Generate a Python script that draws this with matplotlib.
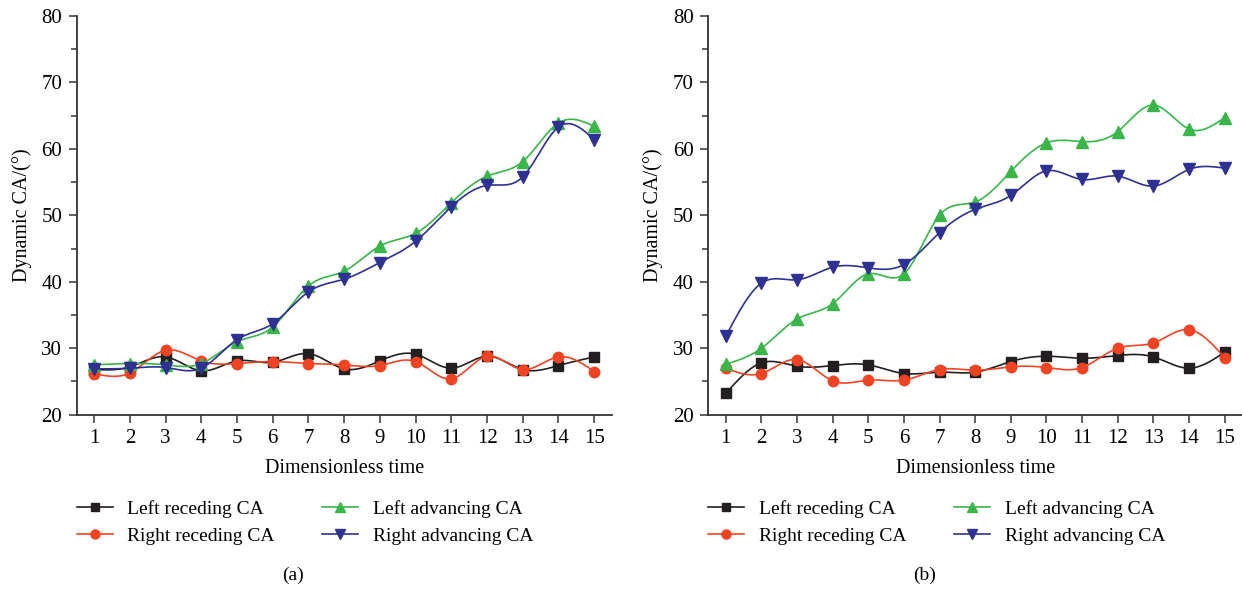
import numpy as np
import matplotlib
matplotlib.use("Agg")
import matplotlib.pyplot as plt
from matplotlib.ticker import MultipleLocator

plt.rcParams["font.family"] = ["Liberation Serif", "DejaVu Serif"]
plt.rcParams["font.size"] = 13.5

t = [1, 2, 3, 4, 5, 6, 7, 8, 9, 10, 11, 12, 13, 14, 15]

# panel (a)
a_left_rec = [26.8, 27.2, 28.7, 26.6, 28.1, 27.9, 29.2, 26.9, 28.1, 29.1, 27.0, 28.8, 26.8, 27.4, 28.7]
a_right_rec = [26.2, 26.3, 29.7, 28.1, 27.7, 28.0, 27.7, 27.5, 27.4, 28.0, 25.4, 28.8, 26.8, 28.7, 26.5]
a_left_adv = [27.5, 27.7, 27.5, 27.7, 31.0, 33.2, 39.4, 41.6, 45.4, 47.3, 51.9, 55.9, 58.1, 63.9, 63.4]
a_right_adv = [26.9, 27.0, 27.1, 27.0, 31.3, 33.7, 38.5, 40.4, 42.9, 46.1, 51.3, 54.5, 55.8, 63.3, 61.4]

# panel (b)
b_left_rec = [23.2, 27.8, 27.3, 27.4, 27.5, 26.2, 26.4, 26.4, 28.0, 28.8, 28.5, 28.9, 28.7, 27.0, 29.4]
b_right_rec = [27.0, 26.2, 28.3, 25.1, 25.2, 25.2, 26.8, 26.7, 27.2, 27.1, 27.1, 30.0, 30.8, 32.8, 28.6]
b_left_adv = [27.6, 30.0, 34.4, 36.7, 41.2, 41.2, 50.0, 52.0, 56.6, 60.9, 61.1, 62.6, 66.6, 63.0, 64.7]
b_right_adv = [31.8, 39.8, 40.3, 42.2, 42.1, 42.6, 47.4, 50.9, 53.0, 56.7, 55.4, 55.9, 54.4, 56.9, 57.1]

labels = ["Left receding CA", "Right receding CA", "Left advancing CA", "Right advancing CA"]
colors = ["#231f20", "#ee4423", "#39b54a", "#2e3192"]
markers = ["s", "o", "^", "v"]
msizes = [6.5, 7.5, 8, 8]


def smooth(x, y, n=30):
    # natural cubic spline, used only for the connecting line
    x = np.asarray(x, float)
    y = np.asarray(y, float)
    k = len(x)
    h = np.diff(x)
    A = np.zeros((k, k))
    b = np.zeros(k)
    A[0, 0] = A[-1, -1] = 1
    for i in range(1, k - 1):
        A[i, i - 1] = h[i - 1]
        A[i, i] = 2 * (h[i - 1] + h[i])
        A[i, i + 1] = h[i]
        b[i] = 6 * ((y[i + 1] - y[i]) / h[i] - (y[i] - y[i - 1]) / h[i - 1])
    M = np.linalg.solve(A, b)
    xs, ys = [], []
    for i in range(k - 1):
        s = np.linspace(x[i], x[i + 1], n, endpoint=False)
        a = x[i + 1] - s
        c = s - x[i]
        v = (M[i] * a**3 + M[i + 1] * c**3) / (6 * h[i]) \
            + (y[i] / h[i] - M[i] * h[i] / 6) * a \
            + (y[i + 1] / h[i] - M[i + 1] * h[i] / 6) * c
        xs.extend(s)
        ys.extend(v)
    xs.append(x[-1])
    ys.append(y[-1])
    return xs, ys


fig = plt.figure(figsize=(12.42, 5.9), dpi=100)
ax_a = fig.add_axes([76.7 / 1242, 175.3 / 590, 535 / 1242, 398.7 / 590])
ax_b = fig.add_axes([708.3 / 1242, 175.3 / 590, 533.7 / 1242, 398.7 / 590])

panels = [
    (ax_a, [a_left_rec, a_right_rec, a_left_adv, a_right_adv], "(a)", 293),
    (ax_b, [b_left_rec, b_right_rec, b_left_adv, b_right_adv], "(b)", 925),
]

for ax, series, tag, tx in panels:
    for vals, lab, c, m, ms in zip(series, labels, colors, markers, msizes):
        xs, ys = smooth(t, vals)
        ax.plot(xs, ys, color=c, lw=1.2)
        ax.plot(t, vals, ls="none", marker=m, ms=ms, color=c)
        ax.plot([], [], color=c, lw=1.2, marker=m, ms=ms - 1, label=lab)
    ax.set_xlim(0.51, 15.49)
    ax.set_ylim(20, 80)
    ax.set_xticks(t)
    ax.yaxis.set_major_locator(MultipleLocator(10))
    ax.yaxis.set_minor_locator(MultipleLocator(5))
    for s in ["top", "right"]:
        ax.spines[s].set_visible(False)
    for s in ["left", "bottom"]:
        ax.spines[s].set_color("#333333")
        ax.spines[s].set_linewidth(1.3)
    ax.tick_params(which="major", direction="out", length=5.5, width=1.1, color="#333333", pad=5, labelsize=15)
    ax.tick_params(which="minor", direction="out", length=4, width=1.1, color="#333333")
    ax.set_xlabel("Dimensionless time", fontsize=14.5, labelpad=8)
    ax.set_ylabel("Dynamic CA/(°)", fontsize=14.5, labelpad=7)
    ax.legend(loc="upper left", bbox_to_anchor=(0.0, -0.215), ncol=2, frameon=False,
              fontsize=14, handlelength=1.85, handletextpad=0.75, columnspacing=2.45,
              labelspacing=0.45, borderpad=0, borderaxespad=0)
    fig.text(tx / 1242, 1 - 575 / 590, tag, ha="center", va="center", fontsize=14)

fig.savefig("out.png", dpi=100)
